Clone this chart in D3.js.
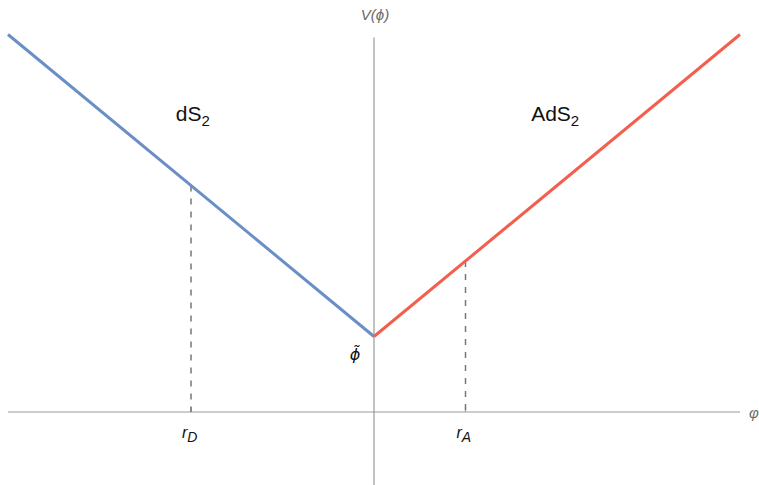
<!DOCTYPE html>
<html>
<head>
<meta charset="utf-8">
<script src="https://cdn.jsdelivr.net/npm/d3@7"></script>
<style>
  html, body { margin: 0; padding: 0; background: #fff; }
  svg { display: block; }
</style>
</head>
<body>
<svg id="chart" width="759" height="485"></svg>
<script>
// Piecewise-linear potential V(phi): dS2 branch for phi < 0, AdS2 branch for phi > 0
const phiTilde = 0.5;
const dsPhi = [-2, 0];
const dsV = [2.5, 0.5];
const adsPhi = [0, 2];
const adsV = [0.5, 2.5];

// Marked radii on the phi axis and their potential values
const markNames = ["D", "A"];
const markPhi = [-1, 0.5];
const markV = [1.5, 1.0];

const width = 759, height = 485;
const svg = d3.select("#chart");

const x = d3.scaleLinear().domain([-2, 2]).range([8, 740]);
const y = d3.scaleLinear().domain([0, 2.5]).range([412, 34.5]);

const axisColor = "#9a9a9a";

// Axes through the origin
svg.append("line")
  .attr("x1", x(-2)).attr("x2", x(2))
  .attr("y1", y(0)).attr("y2", y(0))
  .attr("stroke", axisColor).attr("stroke-width", 1.2);
svg.append("line")
  .attr("x1", x(0)).attr("x2", x(0))
  .attr("y1", y(2.48)).attr("y2", height)
  .attr("stroke", axisColor).attr("stroke-width", 1.2);

// Axis labels
svg.append("text")
  .attr("x", x(0) + 1).attr("y", 20)
  .attr("text-anchor", "middle")
  .attr("font-family", "Liberation Sans, Arial, sans-serif")
  .attr("font-style", "italic").attr("font-size", 15)
  .attr("fill", "#6a6a6a")
  .text("V(\u03D5)");
svg.append("text")
  .attr("x", 749).attr("y", y(0) + 6)
  .attr("font-family", "Liberation Sans, Arial, sans-serif")
  .attr("font-style", "italic").attr("font-size", 15)
  .attr("fill", "#6a6a6a")
  .text("\u03C6");

// Tick marks at r_D and r_A
svg.selectAll("line.tick")
  .data(markPhi)
  .join("line")
  .attr("class", "tick")
  .attr("x1", d => x(d)).attr("x2", d => x(d))
  .attr("y1", y(0)).attr("y2", y(0) - 5)
  .attr("stroke", axisColor).attr("stroke-width", 1.2);

// Dashed drop lines from the potential to the axis
svg.selectAll("line.drop")
  .data(markPhi.map((p, i) => ({ p, v: markV[i] })))
  .join("line")
  .attr("class", "drop")
  .attr("x1", d => x(d.p)).attr("x2", d => x(d.p))
  .attr("y1", d => y(d.v)).attr("y2", y(0))
  .attr("stroke", "#777").attr("stroke-width", 1.5)
  .attr("stroke-dasharray", "6,7");

// Potential branches
const line = d3.line().x(d => x(d[0])).y(d => y(d[1]));
svg.append("path")
  .datum(dsPhi.map((p, i) => [p, dsV[i]]))
  .attr("d", line)
  .attr("fill", "none").attr("stroke", "#6a8ec6").attr("stroke-width", 3);
svg.append("path")
  .datum(adsPhi.map((p, i) => [p, adsV[i]]))
  .attr("d", line)
  .attr("fill", "none").attr("stroke", "#f35f4e").attr("stroke-width", 3);

// Radius labels r_D, r_A
markNames.forEach((n, i) => {
  const t = svg.append("text")
    .attr("x", x(markPhi[i]) - 9).attr("y", 438)
    .attr("font-family", "Liberation Sans, Arial, sans-serif")
    .attr("font-style", "italic").attr("font-size", 16)
    .attr("fill", "#111");
  t.append("tspan").text("r");
  t.append("tspan").attr("dy", 4).attr("font-size", 14).text(n);
});

// phi tilde label at the kink (phi with a combining tilde)
svg.append("text")
  .attr("x", x(0) - 19).attr("y", 360)
  .attr("text-anchor", "middle")
  .attr("font-family", "DejaVu Sans, sans-serif")
  .attr("font-style", "italic").attr("font-size", 16)
  .attr("fill", "#111")
  .text("\u03D5\u0303");

// Region labels
function regionLabel(cx, base) {
  const t = svg.append("text")
    .attr("x", cx).attr("y", 121)
    .attr("text-anchor", "middle")
    .attr("font-family", "Liberation Sans, Arial, sans-serif")
    .attr("font-size", 21)
    .attr("fill", "#111");
  t.append("tspan").text(base);
  t.append("tspan").attr("dy", 5).attr("font-size", 15).text("2");
}
regionLabel(x(-0.99), "dS");
regionLabel(x(0.99), "AdS");
</script>
</body>
</html>
